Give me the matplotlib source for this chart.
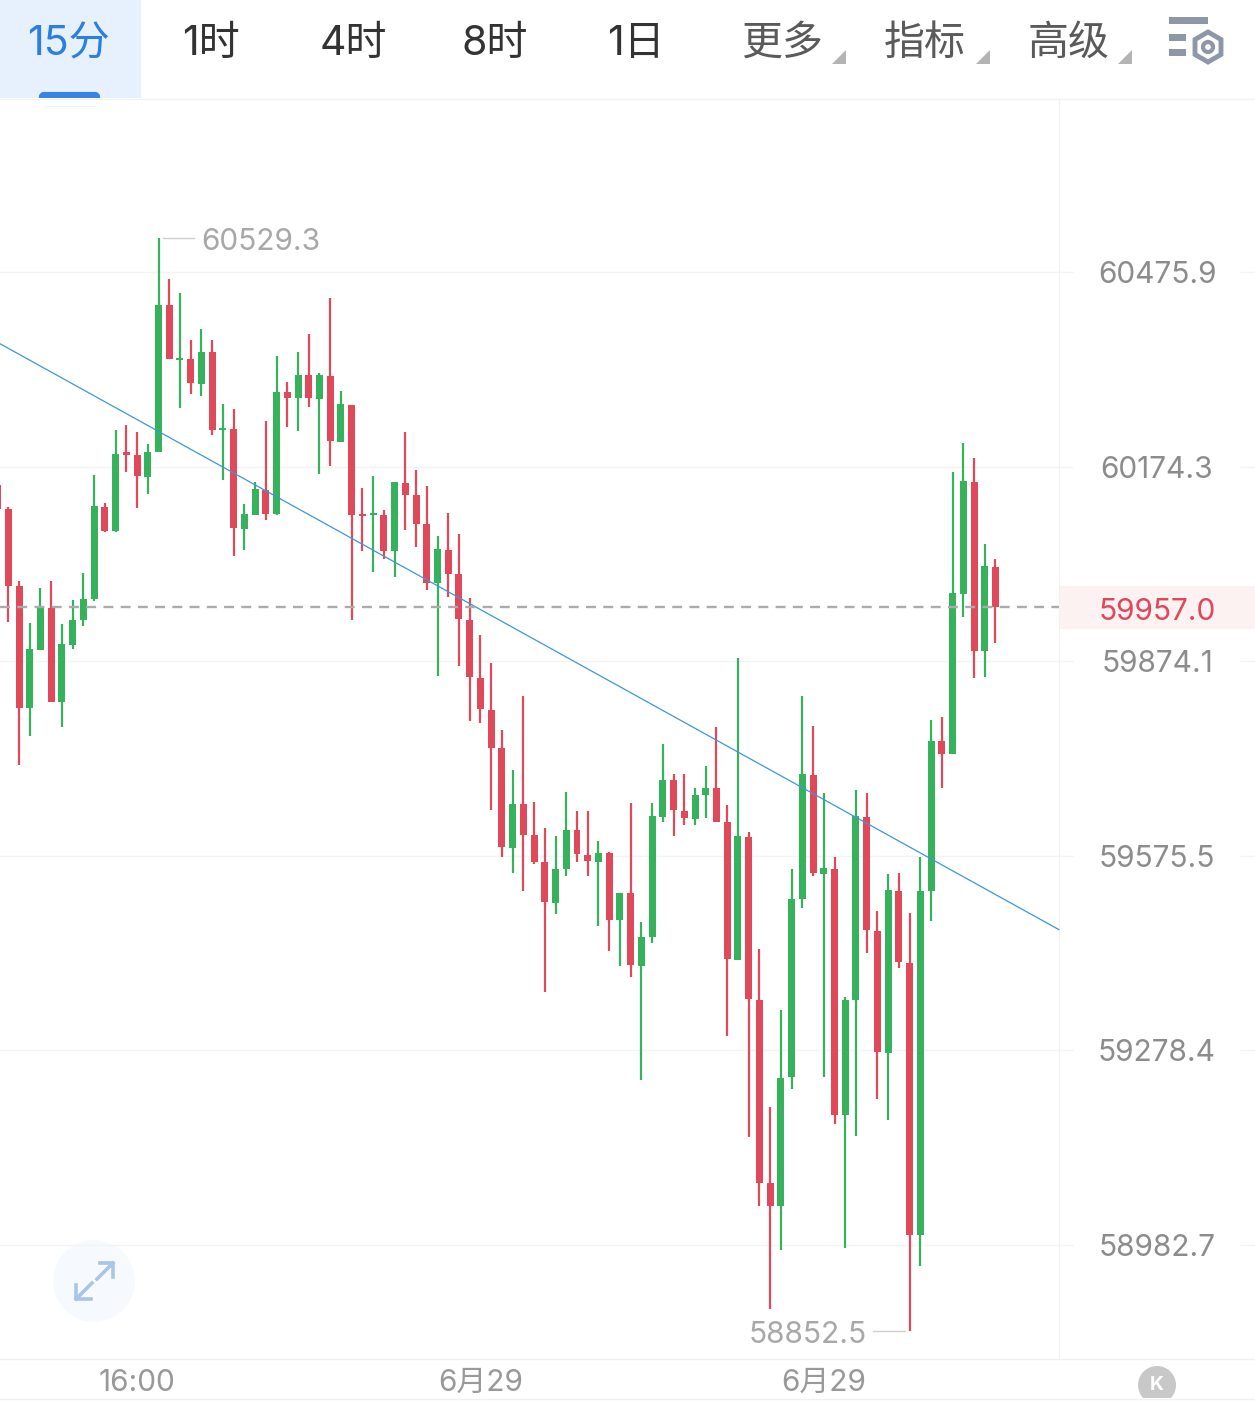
import numpy as np
import matplotlib
matplotlib.use('Agg')
import matplotlib.pyplot as plt
from matplotlib.patches import Rectangle, Circle, RegularPolygon, FancyBboxPatch, Polygon

plt.rcParams['font.family'] = ['Inter', 'Noto Sans CJK SC', 'DejaVu Sans']

# 15 minute candles, oldest first
opens = [60146.4, 60109.3, 59990.2, 59801.7, 59891.1, 59956.1, 59810.9, 59898.9, 59937.6, 59970.0,
         60112.4, 60075.2, 60196.4, 60192.8, 60158.8, 60197.5, 60423.9, 60339.8, 60341.3, 60302.7,
         60351.4, 60231.5, 60233.0, 60078.3, 60100.0, 60138.7, 60100.6, 60289.4, 60279.9, 60315.3,
         60278.8, 60315.0, 60212.9, 60270.2, 60100.5, 60099.2, 60100.0, 60044.3, 60149.5, 60130.0,
         60085.0, 59994.8, 60045.8, 60008.7, 59938.2, 59848.6, 59798.6, 59740.1, 59587.8, 59654.9,
         59606.9, 59565.6, 59503.9, 59555.6, 59615.5, 59577.0, 59566.3, 59579.4, 59477.0, 59519.1,
         59407.1, 59450.6, 59635.5, 59692.4, 59644.7, 59632.4, 59669.3, 59679.3, 59627.0, 59416.4,
         59604.7, 59354.6, 59076.7, 59041.8, 59237.4, 59509.9, 59698.6, 59548.3, 59555.6, 59179.8,
         59354.6, 59635.5, 59461.2, 59274.7, 59522.1, 59411.6, 58997.8, 59521.4, 59750.9, 59730.9,
         59978.1, 60151.0, 59890.1, 60019.6]
highs = [60146.4, 60112.4, 59997.9, 59932.9, 59987.1, 59997.1, 59931.4, 59968.5, 60010.3, 60161.9,
         60118.6, 60230.7, 60238.5, 60227.5, 60209.8, 60529.3, 60465.1, 60443.4, 60370.7, 60387.7,
         60370.7, 60271.7, 60264.0, 60117.0, 60151.0, 60244.6, 60346.0, 60304.8, 60351.4, 60380.0,
         60319.7, 60435.7, 60291.1, 60270.2, 60141.8, 60160.3, 60107.7, 60151.0, 60228.4, 60169.6,
         60144.1, 60067.5, 60103.1, 60069.7, 59971.6, 59914.4, 59870.9, 59767.8, 59706.3, 59820.2,
         59657.5, 59618.5, 59606.2, 59674.0, 59644.7, 59644.7, 59598.5, 59581.6, 59519.1, 59656.3,
         59474.9, 59656.3, 59746.3, 59700.1, 59700.1, 59680.1, 59712.4, 59772.4, 59653.9, 59878.8,
         59612.4, 59432.3, 59191.9, 59339.4, 59555.6, 59820.2, 59774.0, 59671.6, 59573.2, 59359.8,
         59677.0, 59672.4, 59491.7, 59548.0, 59549.5, 59488.6, 59573.2, 59784.0, 59787.8, 60165.4,
         60210.3, 60187.1, 60055.1, 60031.2]
lows = [60109.3, 59934.5, 59714.0, 59758.6, 59891.1, 59810.9, 59772.4, 59892.7, 59928.3, 59967.0,
        60073.7, 60073.7, 60166.5, 60110.8, 60132.5, 60197.5, 60341.3, 60265.5, 60287.2, 60284.1,
        60223.8, 60154.1, 60036.6, 60045.8, 60100.0, 60092.3, 60100.0, 60236.1, 60229.0, 60267.1,
        60162.6, 60174.7, 60212.9, 59937.6, 60044.3, 60011.8, 60031.9, 60004.5, 60076.8, 60050.5,
        59984.0, 59851.7, 59972.4, 59866.3, 59782.3, 59778.6, 59645.5, 59573.9, 59549.5, 59522.1,
        59563.3, 59366.8, 59487.1, 59545.0, 59565.6, 59545.0, 59468.8, 59430.7, 59407.1, 59389.6,
        59232.8, 59442.9, 59626.9, 59605.5, 59622.2, 59622.2, 59633.2, 59627.8, 59300.4, 59416.4,
        59146.4, 59042.4, 58886.3, 58975.1, 59219.8, 59496.2, 59544.2, 59237.4, 59166.7, 58978.1,
        59147.9, 59426.8, 59204.0, 59172.2, 59404.0, 58852.5, 58950.8, 59476.4, 59680.1, 59730.9,
        59942.5, 59847.9, 59849.9, 59902.5]
closes = [60109.3, 59990.2, 59801.7, 59892.7, 59956.1, 59810.9, 59900.4, 59937.6, 59970.0, 60113.9,
          60075.2, 60194.4, 60192.0, 60160.3, 60197.5, 60424.9, 60341.3, 60342.9, 60304.2, 60352.2,
          60230.7, 60234.6, 60079.9, 60101.5, 60139.4, 60101.5, 60289.4, 60281.0, 60316.0, 60279.9,
          60315.3, 60213.5, 60271.1, 60100.0, 60097.8, 60101.9, 60044.3, 60151.0, 60130.9, 60086.1,
          59995.3, 60047.4, 60008.7, 59939.1, 59849.4, 59800.1, 59740.9, 59589.3, 59655.5, 59607.8,
          59566.3, 59505.4, 59555.6, 59615.5, 59578.5, 59566.9, 59580.1, 59477.0, 59519.1, 59407.9,
          59450.6, 59637.0, 59692.4, 59645.5, 59632.9, 59669.3, 59680.1, 59627.8, 59417.8, 59606.2,
          59356.1, 59077.4, 59041.8, 59235.9, 59509.9, 59700.1, 59549.5, 59557.2, 59180.5, 59354.6,
          59637.0, 59462.0, 59275.3, 59522.7, 59412.5, 58998.4, 59522.1, 59750.9, 59731.7, 59978.6,
          60152.6, 59890.1, 60020.3, 59957.0]

price_ticks = [60475.9, 60174.3, 59874.1, 59575.5, 59278.4, 58982.7]
price_labels = ['60475.9', '60174.3', '59874.1', '59575.5', '59278.4', '58982.7']
time_ticks = [12, 44, 76]
time_labels = ['16:00', '6月29', '6月29']
trend_x = [-0.77, 97.9]
trend_y = [60364.5, 59462.7]
last_price = 59957.0

tab_names = ['15分', '1时', '4时', '8时', '1日', '更多', '指标', '高级']
tab_x = [68, 211, 353, 495, 636, 782, 925, 1069]
tab_colors = ['#2b7fe0', '#333333', '#333333', '#333333', '#333333', '#5a5a5a', '#5a5a5a', '#5a5a5a']

RED = '#e0495a'
GREEN = '#36b25c'
GRID = '#f3f3f3'
W, H = 1255, 1403

fig = plt.figure(figsize=(W / 100, H / 100), dpi=100, facecolor='white')
ax = fig.add_axes([0, 1 - 1358 / H, 1059 / W, (1358 - 99) / H])
ax.set_facecolor('none')
ax.set_yscale('log')
ax.set_xlim(-0.7735, 97.92)
ax.set_ylim(58811.7, 60745.3)

x = np.arange(-1, len(opens) - 1)
o = np.array(opens)
c = np.array(closes)
colors = [GREEN if b > a else RED for a, b in zip(o, c)]

ax.vlines(x, lows, highs, colors=colors, lw=1.6, zorder=3)
ax.bar(x, np.abs(c - o), bottom=np.minimum(o, c), width=0.65, color=colors, linewidth=0, zorder=3)

ax.plot(trend_x, trend_y, color='#3d97d8', lw=0.9, zorder=4, clip_on=False)
ax.axhline(last_price, color='#ababab', lw=1.7, dashes=(4.2, 3.1), zorder=5)

# axes
ax.set_yticks(price_ticks)
ax.set_yticklabels(price_labels)
ax.yaxis.set_minor_locator(matplotlib.ticker.NullLocator())
ax.yaxis.set_minor_formatter(matplotlib.ticker.NullFormatter())
ax.yaxis.tick_right()
ax.tick_params(axis='y', length=10, width=1, color=GRID, pad=60.6, labelsize=21.5, labelcolor='#8c8c8c')
for lab in ax.get_yticklabels():
    lab.set_ha('center')
ax.set_xticks(time_ticks)
ax.set_xticklabels(time_labels)
ax.tick_params(axis='x', length=0, pad=8, labelsize=21.5, labelcolor='#999999')
ax.grid(axis='y', color=GRID, lw=1, zorder=0)
ax.set_axisbelow(True)
for s in ['top', 'left', 'bottom']:
    ax.spines[s].set_visible(False)
ax.spines['right'].set_color('#f1f1f1')

# stubs of the grid lines on the far side of the price labels
ax.hlines(price_ticks, 1240 / 1059, 1255 / 1059, transform=ax.get_yaxis_transform(),
          colors=GRID, lw=1, clip_on=False)

# highest and lowest price markers
hi = int(np.argmax(highs)) - 1
lo = int(np.argmin(lows)) - 1
ax.plot([hi + 0.42, hi + 3.3], [max(highs)] * 2, color='#cfcfcf', lw=1)
ax.annotate('%.1f' % max(highs), (hi + 4.0, max(highs)), xytext=(0, -3), textcoords='offset points',
            fontsize=21.5, color='#a8a8a8', ha='left', va='center')
ax.plot([lo - 3.4, lo - 0.4], [min(lows)] * 2, color='#cfcfcf', lw=1)
ax.annotate('%.1f' % min(lows), (lo - 4.0, min(lows)), xytext=(0, -3), textcoords='offset points',
            fontsize=21.5, color='#a8a8a8', ha='right', va='center')

# toolbar, price tag and buttons live on a pixel sized layer
ui = fig.add_axes([0, 0, 1, 1], zorder=-1)
ui.set_xlim(0, W)
ui.set_ylim(H, 0)
ui.axis('off')

ui.add_patch(Rectangle((0, 0), 141, 98, color='#e6f1fd', lw=0))
ui.add_patch(FancyBboxPatch((41, 94), 57, 10, boxstyle='round,pad=0,rounding_size=3', color='#3b82e2', lw=3, clip_on=True))
ui.add_patch(Rectangle((0, 98), W, 8, color='white', lw=0))
ui.plot([0, W], [98.5, 98.5], color='#f1f1f1', lw=1)
ui.plot([0, W], [1358.5, 1358.5], color='#f1f1f1', lw=1)
ui.plot([0, W], [1398.5, 1398.5], color='#f1f1f1', lw=1)

for name, tx, col in zip(tab_names, tab_x, tab_colors):
    ui.text(tx, 44, name, fontsize=29.5, color=col, ha='center', va='center')

for tx in [832, 976, 1118]:
    ui.add_patch(Polygon([[tx, 64], [tx + 14, 64], [tx + 14, 50]], color='#b4b4b4', lw=0))

# settings icon
icon = '#8d97a8'
ui.add_patch(Rectangle((1169, 17), 39, 7, color=icon, lw=0))
ui.add_patch(Rectangle((1169, 34), 17, 7, color=icon, lw=0))
ui.add_patch(Rectangle((1169, 49), 17, 7, color=icon, lw=0))
ui.add_patch(RegularPolygon((1208, 47), 6, radius=15, fill=False, edgecolor=icon, lw=3.5))
ui.add_patch(Circle((1208, 47), 5, fill=False, edgecolor=icon, lw=3))

# current price tag
ui.add_patch(Rectangle((1059, 586), W - 1059, 43, color='#fdf2f2', lw=0))
ax.annotate('%.1f' % last_price, (1157 / 1059, last_price), xycoords=ax.get_yaxis_transform(),
            xytext=(0, -3), textcoords='offset points', fontsize=21.5, color='#e0475a',
            ha='center', va='center', annotation_clip=False)

# expand button
ui.add_patch(Circle((94, 1281), 41, color='#f6faff', lw=0))
arrow = '#a9c5ea'
ui.plot([97, 113], [1279, 1263], color=arrow, lw=2.6)
ui.plot([100, 113, 113], [1263, 1263, 1277], color=arrow, lw=2.6)
ui.plot([92, 76], [1283, 1299], color=arrow, lw=2.6)
ui.plot([76, 76, 91], [1285, 1299, 1299], color=arrow, lw=2.6)

# scroll to latest button, cut off by the bottom border
btn = Circle((1157, 1385), 19, color='#c8c8c8', lw=0)
ui.add_patch(btn)
btn.set_clip_path(Rectangle((1100, 1360), 100, 38, transform=ui.transData))
ui.text(1157, 1385, 'K', fontsize=14, color='white', ha='center', va='center', fontweight='bold')

fig.savefig('out.png', dpi=100)
